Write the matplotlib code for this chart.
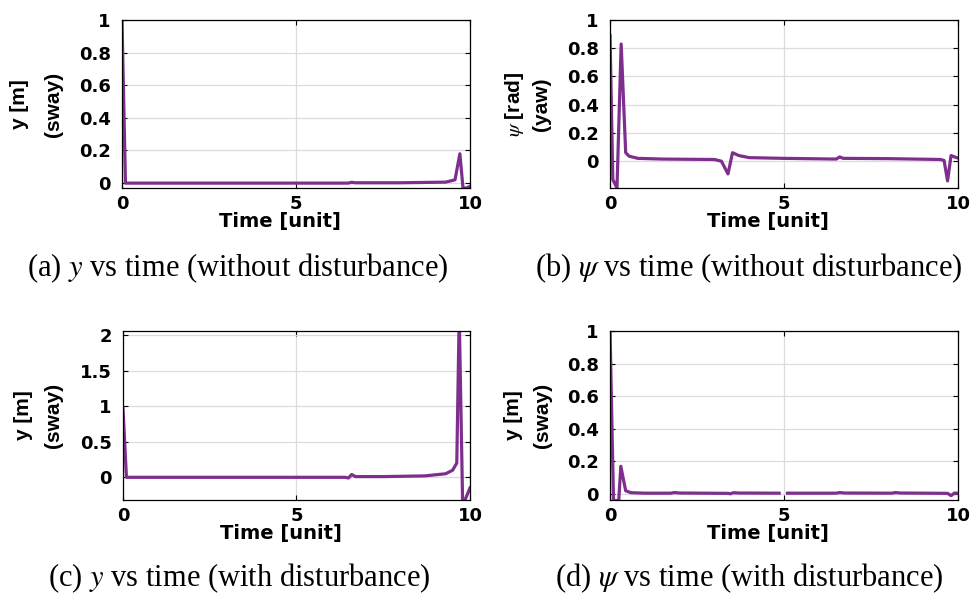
import matplotlib
matplotlib.use("Agg")
import matplotlib.pyplot as plt
import numpy as np

plt.rcParams['mathtext.fontset'] = 'stix'

PURPLE = '#7E2F8E'

# (a) y vs time, no disturbance
t_a = [0.0, 0.1, 1.0, 3.0, 6.5, 6.6, 6.7, 8.0, 9.3, 9.57, 9.71, 9.8, 9.9, 10.0]
y_a = [1.0, 0.0, 0.0, 0.0, 0.0, 0.005, 0.002, 0.002, 0.006, 0.02, 0.18, -0.03, -0.03, -0.02]

# (b) psi vs time, no disturbance
t_b = [0.0, 0.08, 0.2, 0.32, 0.45, 0.55, 0.8, 1.5, 3.0, 3.2, 3.39, 3.52, 3.7, 4.0, 5.0,
       6.5, 6.6, 6.7, 8.0, 9.5, 9.6, 9.7, 9.8, 9.9, 10.0]
y_b = [0.89, -0.13, -0.19, 0.83, 0.06, 0.035, 0.02, 0.015, 0.012, 0.0, -0.09, 0.06, 0.04, 0.025, 0.02,
       0.015, 0.03, 0.02, 0.018, 0.012, 0.005, -0.14, 0.04, 0.03, 0.022]

# (c) y vs time, with disturbance
t_c = [0.0, 0.1, 1.0, 3.0, 6.4, 6.5, 6.59, 6.7, 7.5, 8.7, 9.3, 9.5, 9.62, 9.69, 9.79, 10.0]
y_c = [0.98, 0.0, 0.0, 0.0, 0.0, -0.01, 0.04, 0.01, 0.01, 0.02, 0.05, 0.1, 0.2, 2.3, -0.4, -0.15]

# (d) psi vs time, with disturbance
t_d = [0.0, 0.1, 0.25, 0.31, 0.45, 0.6, 1.0, 1.75, 1.85, 2.0, 3.4, 3.45, 3.55, 3.7, 4.86,
       5.0, 5.1, 6.5, 6.6, 6.75, 8.1, 8.2, 8.35, 9.7, 9.8, 9.9, 10.0]
y_d = [1.0, -0.04, -0.04, 0.17, 0.02, 0.008, 0.005, 0.005, 0.009, 0.006, 0.004, 0.001, 0.008, 0.006, 0.005,
       np.nan, 0.005, 0.005, 0.009, 0.006, 0.005, 0.009, 0.006, 0.004, -0.01, 0.006, 0.004]

x_ticks = [0, 5, 10]
x_ticklabels = ['0', '5', '10']
y_ticks_unit = [0, 0.2, 0.4, 0.6, 0.8, 1]
y_ticklabels_unit = ['0', '0.2', '0.4', '0.6', '0.8', '1']
y_ticks_c = [0, 0.5, 1, 1.5, 2]
y_ticklabels_c = ['0', '0.5', '1', '1.5', '2']

panels = [
    dict(t=t_a, y=y_a, ylim=(-0.03, 1.0), yticks=y_ticks_unit, yticklabels=y_ticklabels_unit,
         ylab=('y [m]', '(sway)'), lab_off=(-102, -68),
         pos=[0.1255, 0.6835, 0.358, 0.2828],
         caption=r'(a) $y$ vs time (without disturbance)', cap_xy=(0.245, 0.549)),
    dict(t=t_b, y=y_b, ylim=(-0.19, 1.0), yticks=y_ticks_unit, yticklabels=y_ticklabels_unit,
         ylab=(r'$\psi$ [rad]', '(yaw)'), lab_off=(-96, -69),
         pos=[0.6276, 0.6835, 0.358, 0.2828],
         caption=r'(b) $\psi$ vs time (without disturbance)', cap_xy=(0.770, 0.549)),
    dict(t=t_c, y=y_c, ylim=(-0.32, 2.06), yticks=y_ticks_c, yticklabels=y_ticklabels_c,
         ylab=('y [m]', '(sway)'), lab_off=(-99, -69),
         pos=[0.1265, 0.1582, 0.357, 0.2845],
         caption=r'(c) $y$ vs time (with disturbance)', cap_xy=(0.246, 0.027)),
    dict(t=t_d, y=y_d, ylim=(-0.037, 1.0), yticks=y_ticks_unit, yticklabels=y_ticklabels_unit,
         ylab=('y [m]', '(sway)'), lab_off=(-97, -68),
         pos=[0.6276, 0.1582, 0.358, 0.2845],
         caption=r'(d) $\psi$ vs time (with disturbance)', cap_xy=(0.771, 0.027)),
]

W, H = 972, 594
fig = plt.figure(figsize=(W / 100, H / 100), dpi=100)
lab_font = ['Liberation Sans Narrow', 'Liberation Sans']

for p in panels:
    ax = fig.add_axes(p['pos'])
    ax.plot(p['t'], p['y'], color=PURPLE, linewidth=2.3)
    ax.set_xlim(0, 10)
    ax.set_ylim(*p['ylim'])
    ax.set_xticks(x_ticks)
    ax.set_xticklabels(x_ticklabels, fontsize=13, fontweight='bold', family='DejaVu Sans')
    ax.set_yticks(p['yticks'])
    ax.set_yticklabels(p['yticklabels'], fontsize=13, fontweight='bold', family='DejaVu Sans')
    ax.grid(True, color='#dcdcdc', linewidth=0.9)
    ax.set_axisbelow(True)
    ax.tick_params(axis='y', direction='in', length=3.5, width=0.8, right=True, pad=8)
    ax.tick_params(axis='x', direction='in', length=3.5, width=0.8, top=True, pad=5)
    for s in ax.spines.values():
        s.set_linewidth(0.9)
    ax.set_xlabel('Time [unit]', fontsize=14, fontweight='bold', family='DejaVu Sans',
                  labelpad=1)
    ax.xaxis.set_label_coords(0.455, -0.2)
    ax.xaxis.label.set_va('center')

    # two-line y label placed like the original
    left_px = p['pos'][0] * W
    yc = p['pos'][1] + p['pos'][3] / 2
    for txt, off in zip(p['ylab'], p['lab_off']):
        fig.text((left_px + off) / W, yc, txt, rotation=90, ha='center', va='center',
                 fontsize=15, family=lab_font, fontweight='bold')

    fig.text(p['cap_xy'][0], p['cap_xy'][1], p['caption'], ha='center', va='center',
             fontsize=22, family='Liberation Serif')

fig.savefig('out.png', dpi=100)
